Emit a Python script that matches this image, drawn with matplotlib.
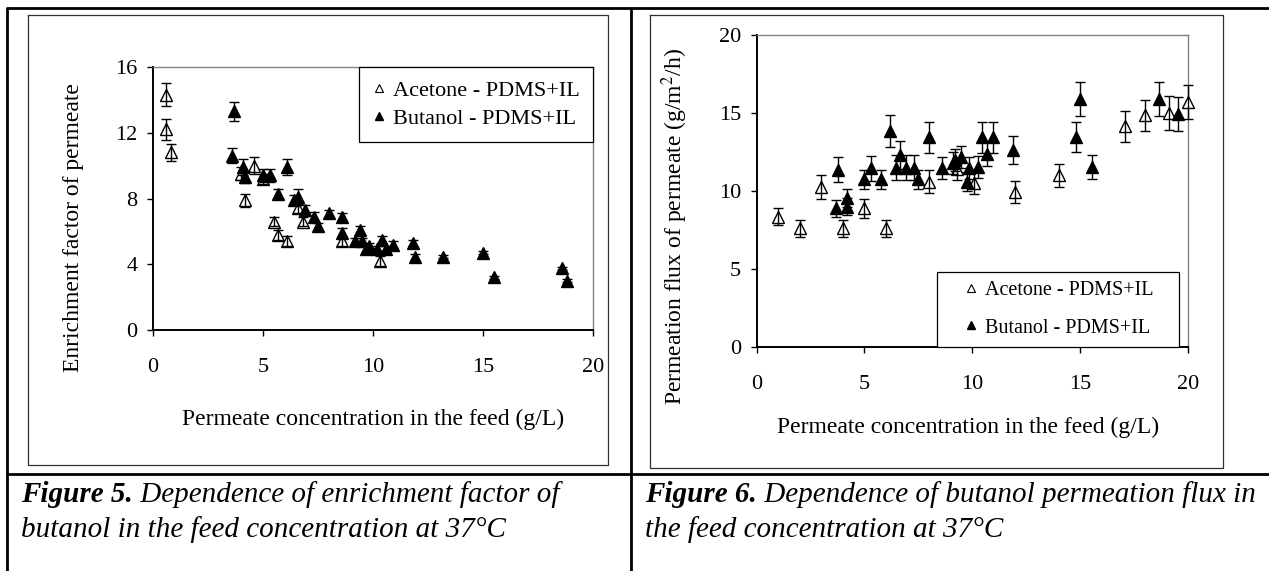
"""Two-panel pervaporation figure (enrichment factor and permeation flux vs
feed concentration), laid out as a two-column table with captions."""

import matplotlib

matplotlib.use("Agg")

import matplotlib.pyplot as plt
from matplotlib.lines import Line2D

W, H = 1269, 571

# Figure 5: enrichment factor of permeate
ace5_x = [0.6, 0.6, 0.8, 4.0, 4.2, 4.6, 5.0, 5.5, 5.7, 6.1, 6.6, 6.8, 8.6, 10.3]
ace5_y = [14.3, 12.2, 10.8, 9.5, 7.9, 10.0, 9.2, 6.6, 5.8, 5.4, 7.4, 6.6, 5.4, 4.2]
ace5_err = [0.7, 0.65, 0.5, 0.4, 0.4, 0.5, 0.3, 0.3, 0.3, 0.3, 0.3, 0.3, 0.3, 0.3]

but5_x = [3.7, 3.6, 4.1, 4.2, 5.0, 5.3, 6.1, 5.7, 6.4, 6.6, 6.9, 7.3, 7.5, 8.0, 8.6, 8.6,
          9.4, 9.2, 9.5, 9.7, 9.8, 10.4, 10.2, 10.6, 10.9, 11.8, 11.9, 13.2, 15.0, 15.5,
          18.6, 18.8]
but5_y = [13.3, 10.6, 9.9, 9.3, 9.4, 9.4, 9.9, 8.3, 7.9, 8.1, 7.3, 6.9, 6.3, 7.1, 6.9, 5.9,
          6.1, 5.4, 5.4, 4.9, 5.1, 5.5, 4.9, 4.9, 5.2, 5.3, 4.45, 4.45, 4.7, 3.2,
          3.75, 3.0]
but5_err = [0.6, 0.45, 0.5, 0.35, 0.4, 0.4, 0.5, 0.3, 0.3, 0.45, 0.3, 0.3, 0.2, 0.2, 0.2, 0.3,
            0.25, 0.2, 0.2, 0.2, 0.2, 0.2, 0.2, 0.2, 0.2, 0.2, 0.2, 0.1, 0.1, 0.1,
            0.1, 0.1]

# Figure 6: permeation flux of permeate
ace6_x = [1.0, 2.0, 3.0, 4.0, 5.0, 6.0, 8.0, 9.3, 10.1, 12.0, 14.0, 17.1, 18.0, 19.1, 20.0]
ace6_y = [8.35, 7.6, 10.25, 7.6, 8.9, 7.6, 10.6, 11.4, 10.5, 9.95, 11.0, 14.15, 14.85, 15.0, 15.7]
ace6_err = [0.55, 0.55, 0.75, 0.55, 0.6, 0.55, 0.75, 0.7, 0.7, 0.7, 0.75, 1.0, 1.0, 1.1, 1.1]

but6_x = [3.8, 3.7, 4.2, 4.2, 5.0, 5.3, 5.75, 6.2, 6.45, 6.65, 6.95, 7.3, 7.5, 8.0, 8.6,
          9.1, 9.2, 9.5, 9.75, 9.85, 10.25, 10.45, 10.95, 10.7, 11.9, 14.8, 15.0, 15.55,
          18.65, 19.55]
but6_y = [11.35, 8.9, 9.55, 9.0, 10.75, 11.45, 10.75, 13.85, 11.5, 12.3, 11.5, 11.5, 10.75,
          13.45, 11.5, 11.8, 12.0, 12.2, 10.6, 11.5, 11.55, 13.45, 13.45, 12.4, 12.6, 13.45,
          15.9, 11.55, 15.9, 14.95]
but6_err = [0.8, 0.55, 0.6, 0.55, 0.6, 0.8, 0.6, 1.0, 0.8, 0.9, 0.8, 0.8, 0.6, 1.0, 0.7,
            0.7, 0.7, 0.7, 0.6, 0.7, 0.7, 1.0, 1.0, 0.8, 0.9, 0.95, 1.1, 0.75, 1.1, 1.1]

x_ticks = [0, 5, 10, 15, 20]
y5_ticks = [0, 4, 8, 12, 16]
y6_ticks = [0, 5, 10, 15, 20]

ace_label = "Acetone - PDMS+IL"
but_label = "Butanol - PDMS+IL"
x_title = "Permeate concentration in the feed (g/L)"
y5_title = "Enrichment factor of permeate"
y6_title = "Permeation flux of permeate (g/m$^2$/h)"

plt.rcParams["font.family"] = ["Liberation Serif", "DejaVu Serif"]
plt.rcParams["mathtext.fontset"] = "stix"

TICK_FS = 16
LABEL_FS = 17


def px_axes(fig, x0, y0, x1, y1):
    """Axes from pixel box (left, top, right, bottom)."""
    return fig.add_axes([x0 / W, (H - y1) / H, (x1 - x0) / W, (y1 - y0) / H])


def draw_series(ax, ace, but):
    style = dict(fmt="^", ms=8, mec="black", ecolor="black", elinewidth=1,
                 capsize=3.5, capthick=1, barsabove=True, mew=1)
    for series, face, z in ((ace, "white", 3), (but, "black", 4)):
        cont = ax.errorbar(series[0], series[1], yerr=series[2], mfc=face, zorder=z, **style)
        # points sitting on x = 20 are drawn whole, as in the original
        for artist in cont.get_children():
            artist.set_clip_on(False)


def style_axes(ax, yticks):
    ax.set_xlim(0, 20)
    ax.set_ylim(yticks[0], yticks[-1])
    ax.set_xticks(x_ticks)
    ax.set_yticks(yticks)
    for side in ("left", "bottom"):
        ax.spines[side].set_color("black")
        ax.spines[side].set_linewidth(1.4)
    for side in ("top", "right"):
        ax.spines[side].set_color("#808080")
        ax.spines[side].set_linewidth(1.0)
    ax.tick_params(direction="out", length=4, width=1, labelsize=TICK_FS)
    ax.tick_params(axis="x", pad=16)
    ax.tick_params(axis="y", pad=7)


def legend_handles():
    ace = Line2D([], [], ls="none", marker="^", ms=6, mfc="white", mec="black", mew=0.8)
    but = Line2D([], [], ls="none", marker="^", ms=6, mfc="black", mec="black")
    return [ace, but]


fig = plt.figure(figsize=(W / 100, H / 100), dpi=100)

# background layer in pixel coordinates: table rules, chart frames, captions
bg = fig.add_axes([0, 0, 1, 1], zorder=0)
bg.set_xlim(0, W)
bg.set_ylim(H, 0)
bg.axis("off")
for xs, ys in (([6, W], [8, 8]), ([6, W], [473.5, 473.5]),
               ([7, 7], [8, H]), ([631, 631], [8, H])):
    bg.plot(xs, ys, color="black", lw=2.0, solid_capstyle="butt")
for x0, y0, x1, y1 in ((28, 15, 608, 465), (650, 15, 1223, 468)):
    bg.plot([x0, x1, x1, x0, x0], [y0, y0, y1, y1, y0], color="#303030", lw=0.9)

for x0, num, line1, line2 in (
    (21, "5", " Dependence of enrichment factor of", "butanol in the feed concentration at 37°C"),
    (645, "6", " Dependence of butanol permeation flux in", "the feed concentration at 37°C"),
):
    t = bg.text(x0, 502, f"Figure {num}.", fontsize=21, fontweight="bold", style="italic",
                va="baseline")
    bg.annotate(line1, xy=(1, 0), xycoords=t, fontsize=21, style="italic", va="bottom")
    bg.text(x0, 537, line2, fontsize=21, style="italic", va="baseline")

# Figure 5
ax5 = px_axes(fig, 153, 67, 593, 330)
draw_series(ax5, (ace5_x, ace5_y, ace5_err), (but5_x, but5_y, but5_err))
style_axes(ax5, y5_ticks)
ax5.set_xlabel(x_title, fontsize=LABEL_FS)
ax5.set_ylabel(y5_title, fontsize=LABEL_FS)
ax5.xaxis.set_label_coords(0.5, -0.30)
ax5.yaxis.set_label_coords(-0.157, 0.39)
ax5.legend(legend_handles(), [ace_label, but_label], loc="upper right",
           bbox_to_anchor=(1, 1), borderaxespad=0, fontsize=16, fancybox=False,
           edgecolor="black", framealpha=1, handlelength=0.6, handletextpad=0.33,
           labelspacing=0.32, borderpad=0.6).get_frame().set_linewidth(0.9)

# Figure 6
ax6 = px_axes(fig, 756.5, 35, 1188, 347)
draw_series(ax6, (ace6_x, ace6_y, ace6_err), (but6_x, but6_y, but6_err))
style_axes(ax6, y6_ticks)
ax6.set_xlabel(x_title, fontsize=LABEL_FS)
ax6.set_ylabel(y6_title, fontsize=LABEL_FS)
ax6.xaxis.set_label_coords(0.49, -0.225)
ax6.yaxis.set_label_coords(-0.155, 0.385)
ax6.legend(legend_handles(), [ace_label, but_label], loc="lower left",
           bbox_to_anchor=(0.4183, 0, 0.5608, 0.3), mode="expand", borderaxespad=0,
           fontsize=14.5, fancybox=False, edgecolor="black", framealpha=1,
           handlelength=2.4, handletextpad=-0.47, labelspacing=0.9,
           borderpad=0.47).get_frame().set_linewidth(0.9)

fig.savefig("out.png", dpi=100)
plt.close(fig)
